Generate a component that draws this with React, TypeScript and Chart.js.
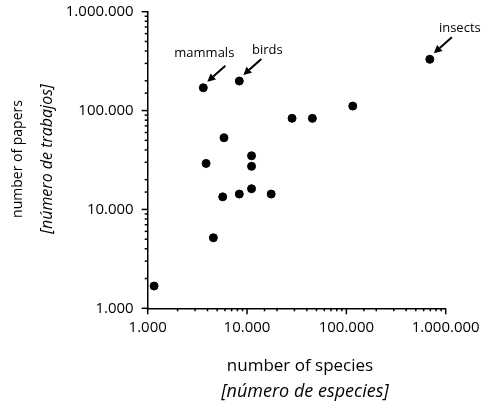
import React, { useEffect, useRef } from "react";
import { Chart, registerables } from "chart.js";

Chart.register(...registerables);

const species = [1160, 4580, 3870, 5860, 5690, 8360, 11100, 11100, 11100, 17500, 28400, 45500, 116000, 692000, 3630, 8360];
const papers = [1680, 5170, 29200, 53100, 13400, 14300, 16200, 27300, 34900, 14300, 83400, 83400, 111000, 330000, 170000, 199000];
const pointNames = ["", "", "", "", "", "", "", "", "", "", "", "", "", "insects", "mammals", "birds"];
const axisMin = 1000;
const axisMax = 1000000;
const xTitle = "number of species";
const xSubtitle = "[número de especies]";
const yTitle = "number of papers";
const ySubtitle = "[número de trabajos]";

const FONT = "'Open Sans', sans-serif";

const fmt = (v: number) => String(Math.round(v)).replace(/\B(?=(\d{3})+(?!\d))/g, ".");
const isPow10 = (v: number) => {
  const l = Math.log10(v);
  return Math.abs(l - Math.round(l)) < 1e-9;
};

const labelOffsets: Record<string, [number, number]> = {
  mammals: [1, -34],
  birds: [28, -31],
  insects: [30, -31],
};

const decorPlugin = {
  id: "decor",
  afterDraw(chart: any) {
    const ctx = chart.ctx as CanvasRenderingContext2D;
    const area = chart.chartArea;
    const xs = chart.scales.x;
    const ys = chart.scales.y;
    ctx.save();
    ctx.strokeStyle = "#000";
    ctx.lineWidth = 1.5;
    xs.ticks.forEach((t: any) => {
      const px = xs.getPixelForValue(t.value);
      const len = isPow10(t.value) ? 6 : 3;
      ctx.beginPath();
      ctx.moveTo(px, area.bottom);
      ctx.lineTo(px, area.bottom + len);
      ctx.stroke();
    });
    ys.ticks.forEach((t: any) => {
      const py = ys.getPixelForValue(t.value);
      const len = isPow10(t.value) ? 6 : 3;
      ctx.beginPath();
      ctx.moveTo(area.left, py);
      ctx.lineTo(area.left - len, py);
      ctx.stroke();
    });
    ctx.fillStyle = "#000";
    ctx.textAlign = "center";
    ctx.textBaseline = "middle";
    ctx.font = `17px ${FONT}`;
    ctx.fillText(xTitle, 300, 366);
    ctx.font = `italic 18px ${FONT}`;
    ctx.fillText(xSubtitle, 305, 392);
    ctx.save();
    ctx.translate(18, 159);
    ctx.rotate(-Math.PI / 2);
    ctx.font = `14px ${FONT}`;
    ctx.fillText(yTitle, 0, 0);
    ctx.restore();
    ctx.save();
    ctx.translate(47, 159);
    ctx.rotate(-Math.PI / 2);
    ctx.font = `italic 16px ${FONT}`;
    ctx.fillText(ySubtitle, 0, 0);
    ctx.restore();
    ctx.font = `13px ${FONT}`;
    pointNames.forEach((name, i) => {
      if (!name) return;
      const px = xs.getPixelForValue(species[i]);
      const py = ys.getPixelForValue(papers[i]);
      const off = labelOffsets[name] || [20, -30];
      ctx.fillText(name, px + off[0], py + off[1]);
      const sx = px + 22, sy = py - 22;
      const tx = px + 4, ty = py - 6;
      const ang = Math.atan2(ty - sy, tx - sx);
      const hl = 8, hw = 4;
      const bx = tx - hl * Math.cos(ang), by = ty - hl * Math.sin(ang);
      ctx.lineWidth = 2;
      ctx.beginPath();
      ctx.moveTo(sx, sy);
      ctx.lineTo(bx, by);
      ctx.stroke();
      ctx.beginPath();
      ctx.moveTo(tx, ty);
      ctx.lineTo(bx + hw * Math.sin(ang), by - hw * Math.cos(ang));
      ctx.lineTo(bx - hw * Math.sin(ang), by + hw * Math.cos(ang));
      ctx.closePath();
      ctx.fill();
    });
    ctx.restore();
  },
};

export default function App() {
  const ref = useRef<HTMLCanvasElement>(null);
  useEffect(() => {
    if (!ref.current) return;
    const chart = new Chart(ref.current, {
      type: "scatter",
      data: {
        datasets: [
          {
            data: species.map((s, i) => ({ x: s, y: papers[i] })),
            backgroundColor: "#000",
            borderColor: "#000",
            pointRadius: 4,
            pointHoverRadius: 4,
          },
        ],
      },
      options: {
        animation: false,
        responsive: false,
        events: [],
        layout: { padding: { top: 11.7, right: 40.3, left: 0, bottom: 0 } },
        plugins: { legend: { display: false }, tooltip: { enabled: false } },
        scales: {
          x: {
            type: "logarithmic",
            min: axisMin,
            max: axisMax,
            border: { display: true, color: "#000", width: 1.5 },
            grid: { display: true, drawOnChartArea: false, drawTicks: false, color: "transparent" },
            ticks: {
              autoSkip: false,
              maxRotation: 0,
              padding: 10,
              color: "#000",
              font: { family: FONT, size: 15 },
              callback: (v: any) => (isPow10(Number(v)) ? fmt(Number(v)) : ""),
            },
            afterFit: (s: any) => {
              s.height = 96.7;
              s.paddingLeft = 0;
              s.paddingRight = 0;
            },
          },
          y: {
            type: "logarithmic",
            min: axisMin,
            max: axisMax,
            border: { display: true, color: "#000", width: 1.5 },
            grid: { display: true, drawOnChartArea: false, drawTicks: false, color: "transparent" },
            ticks: {
              autoSkip: false,
              padding: 14,
              color: "#000",
              font: { family: FONT, size: 15 },
              callback: (v: any) => (isPow10(Number(v)) ? fmt(Number(v)) : ""),
            },
            afterFit: (s: any) => {
              s.width = 147.7;
              s.paddingTop = 0;
              s.paddingBottom = 0;
            },
          },
        },
      },
      plugins: [decorPlugin],
    } as any);
    return () => chart.destroy();
  }, []);
  return (
    <div style={{ position: "fixed", left: 0, top: 0, width: 486, height: 405, background: "#fff" }}>
      <canvas ref={ref} width={486} height={405} style={{ display: "block" }} />
    </div>
  );
}
